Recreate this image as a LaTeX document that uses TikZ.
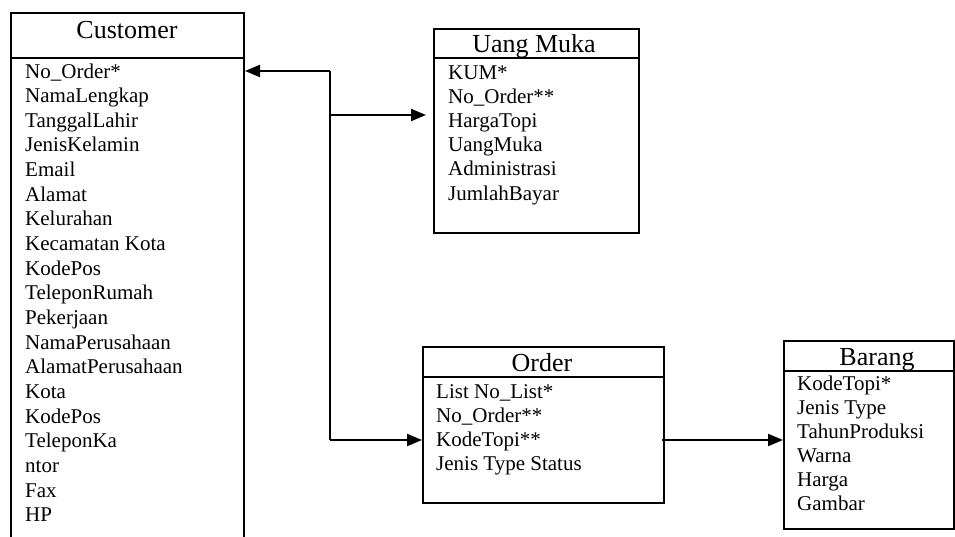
\documentclass[tikz,border=0pt]{standalone}
\usepackage{fontspec}
\setmainfont{Liberation Serif}
\usetikzlibrary{arrows.meta}
\begin{document}
\begin{tikzpicture}[x=1pt,y=-1pt,
  box/.style={draw,line width=2pt,rectangle,anchor=north west,inner sep=0pt},
  title/.style={font=\fontsize{26}{29}\selectfont,inner sep=0pt,anchor=base},
  attr/.style={font=\fontsize{21}{24}\selectfont,inner sep=0pt,anchor=base west},
  sep/.style={line width=2pt},
  conn/.style={line width=2pt,-{Triangle[length=15pt,width=12pt]}},
  wire/.style={line width=2pt}]
\useasboundingbox (0,0) rectangle (955,536);
\clip (0,0) rectangle (955,536);
% Customer
\node[box,minimum width=233pt,minimum height=560pt] (cust) at (10,12) {};
\draw[sep] (10,58) -- (243,58);
\node[title] (custT) at (127,38) {Customer};
\foreach \t [count=\i from 0] in {No\_Order*,NamaLengkap,TanggalLahir,JenisKelamin,Email,Alamat,Kelurahan,Kecamatan Kota,KodePos,TeleponRumah,Pekerjaan,NamaPerusahaan,AlamatPerusahaan,Kota,KodePos,TeleponKa,ntor,Fax,HP}
  \node[attr] (ca\i) at (25,{78+24.65*\i}) {\t};
% Uang Muka
\node[box,minimum width=205pt,minimum height=204pt] (um) at (433,28) {};
\draw[sep] (433,58) -- (638,58);
\node[title] (umT) at (534,52) {Uang Muka};
\foreach \t [count=\i from 0] in {KUM*,No\_Order**,HargaTopi,UangMuka,Administrasi,JumlahBayar}
  \node[attr] (ua\i) at (448,{79+24.2*\i}) {\t};
% Order
\node[box,minimum width=241pt,minimum height=156pt] (ord) at (422,346) {};
\draw[sep] (422,377) -- (663,377);
\node[title] (ordT) at (542,371) {Order};
\foreach \t [count=\i from 0] in {List No\_List*,No\_Order**,KodeTopi**,Jenis Type Status}
  \node[attr] (oa\i) at (436,{398+24.3*\i}) {\t};
% Barang
\node[box,minimum width=170pt,minimum height=188pt] (bar) at (783,340) {};
\draw[sep] (783,371) -- (953,371);
\node[title] (barT) at (877,365) {Barang};
\foreach \t [count=\i from 0] in {KodeTopi*,Jenis Type,TahunProduksi,Warna,Harga,Gambar}
  \node[attr] (ba\i) at (797,{390+24*\i}) {\t};
% connectors
\coordinate (j1) at (330,71);
\coordinate (j2) at (330,115);
\coordinate (j3) at (330,440);
\coordinate (o1) at (662,440);
\draw[wire] (j1) -- (j3);
\draw[conn] (j1) -- (cust.east |- j1);
\draw[conn,shorten >=7pt] (j2) -- (um.west |- j2);
\draw[conn] (j3) -- (ord.west |- j3);
\draw[conn] (o1) -- (bar.west |- o1);
\end{tikzpicture}
\end{document}
